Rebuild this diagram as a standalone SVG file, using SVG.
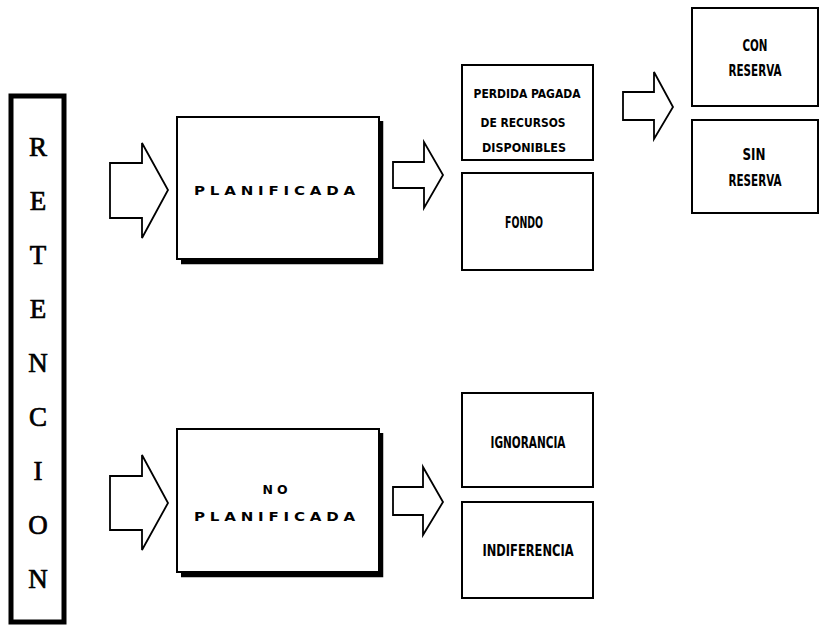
<svg xmlns="http://www.w3.org/2000/svg" width="820" height="628" viewBox="0 0 820 628">
<style>
.bg{fill:#ffffff}
.box{fill:#ffffff;stroke:#000;stroke-width:2}
.shadow{fill:none;stroke:#000;stroke-width:4.5}
.ret{fill:#ffffff;stroke:#000;stroke-width:5}
.arrow{fill:#ffffff;stroke:#000;stroke-width:1.8;stroke-linejoin:miter}
.serif{font-family:"Liberation Serif","DejaVu Serif",serif;font-size:27px;fill:#000;stroke:#000;stroke-width:0.7;text-anchor:middle}
.wide{font-family:"DejaVu Sans","Liberation Sans",sans-serif;font-size:12.5px;font-weight:bold;letter-spacing:4px;fill:#000;text-anchor:middle}
.cond{font-family:"DejaVu Sans Condensed","DejaVu Sans",sans-serif;font-stretch:condensed;font-weight:bold;font-size:15px;fill:#000;text-anchor:middle}
.small{font-size:12px}
</style>
<rect class="bg" x="0" y="0" width="820" height="628"/>

<g id="retencion">
<rect class="ret" x="11" y="96" width="53" height="526"/>
<text class="serif" x="38" y="156">R</text>
<text class="serif" x="38" y="210">E</text>
<text class="serif" x="38" y="264">T</text>
<text class="serif" x="38" y="318">E</text>
<text class="serif" x="38" y="372">N</text>
<text class="serif" x="38" y="426">C</text>
<text class="serif" x="38" y="480">I</text>
<text class="serif" x="38" y="534">O</text>
<text class="serif" x="38" y="588">N</text>
</g>

<g id="connectors">
<path class="arrow" d="M110,163 H142 V143 L168,190 L142,238 V218 H110 Z"/>
<path class="arrow" d="M110,476 H142 V455 L168,503 L142,550 V530 H110 Z"/>
<path class="arrow" d="M393,162 H424 V142 L443,175 L424,208 V188 H393 Z"/>
<path class="arrow" d="M393,487 H423 V467 L443,502 L423,535 V515 H393 Z"/>
<path class="arrow" d="M623,92 H654 V72 L673,107 L654,139 V120 H623 Z"/>
</g>

<g id="planificada">
<rect class="box" x="177" y="117" width="202" height="142"/>
<polyline class="shadow" points="381,121 381,262 181,262"/>
<text class="wide" x="277" y="195" textLength="166" lengthAdjust="spacingAndGlyphs">PLANIFICADA</text>
</g>

<g id="no-planificada">
<rect class="box" x="177" y="429" width="202" height="143"/>
<polyline class="shadow" points="381,433 381,575 181,575"/>
<text class="wide" x="277" y="494" textLength="29" lengthAdjust="spacingAndGlyphs">NO</text>
<text class="wide" x="277" y="521" textLength="166" lengthAdjust="spacingAndGlyphs">PLANIFICADA</text>
</g>

<g id="perdida">
<rect class="box" x="462" y="65" width="131" height="95"/>
<text class="cond small" x="527" y="98" textLength="107" lengthAdjust="spacingAndGlyphs">PERDIDA PAGADA</text>
<text class="cond small" x="523" y="127" textLength="85" lengthAdjust="spacingAndGlyphs">DE RECURSOS</text>
<text class="cond small" x="524" y="152" textLength="84" lengthAdjust="spacingAndGlyphs">DISPONIBLES</text>
</g>

<g id="fondo">
<rect class="box" x="462" y="173" width="131" height="97"/>
<text class="cond" x="524" y="228" textLength="38" lengthAdjust="spacingAndGlyphs">FONDO</text>
</g>

<g id="con-reserva">
<rect class="box" x="692" y="8" width="126" height="98"/>
<text class="cond" x="755" y="51" textLength="25" lengthAdjust="spacingAndGlyphs">CON</text>
<text class="cond" x="755" y="76" textLength="53" lengthAdjust="spacingAndGlyphs">RESERVA</text>
</g>

<g id="sin-reserva">
<rect class="box" x="692" y="120" width="126" height="93"/>
<text class="cond" x="754" y="160" textLength="23" lengthAdjust="spacingAndGlyphs">SIN</text>
<text class="cond" x="755" y="186" textLength="53" lengthAdjust="spacingAndGlyphs">RESERVA</text>
</g>

<g id="ignorancia">
<rect class="box" x="462" y="393" width="131" height="94"/>
<text class="cond" x="528" y="448" textLength="75" lengthAdjust="spacingAndGlyphs">IGNORANCIA</text>
</g>

<g id="indiferencia">
<rect class="box" x="462" y="502" width="131" height="96"/>
<text class="cond" x="528" y="556" textLength="91" lengthAdjust="spacingAndGlyphs">INDIFERENCIA</text>
</g>
</svg>
